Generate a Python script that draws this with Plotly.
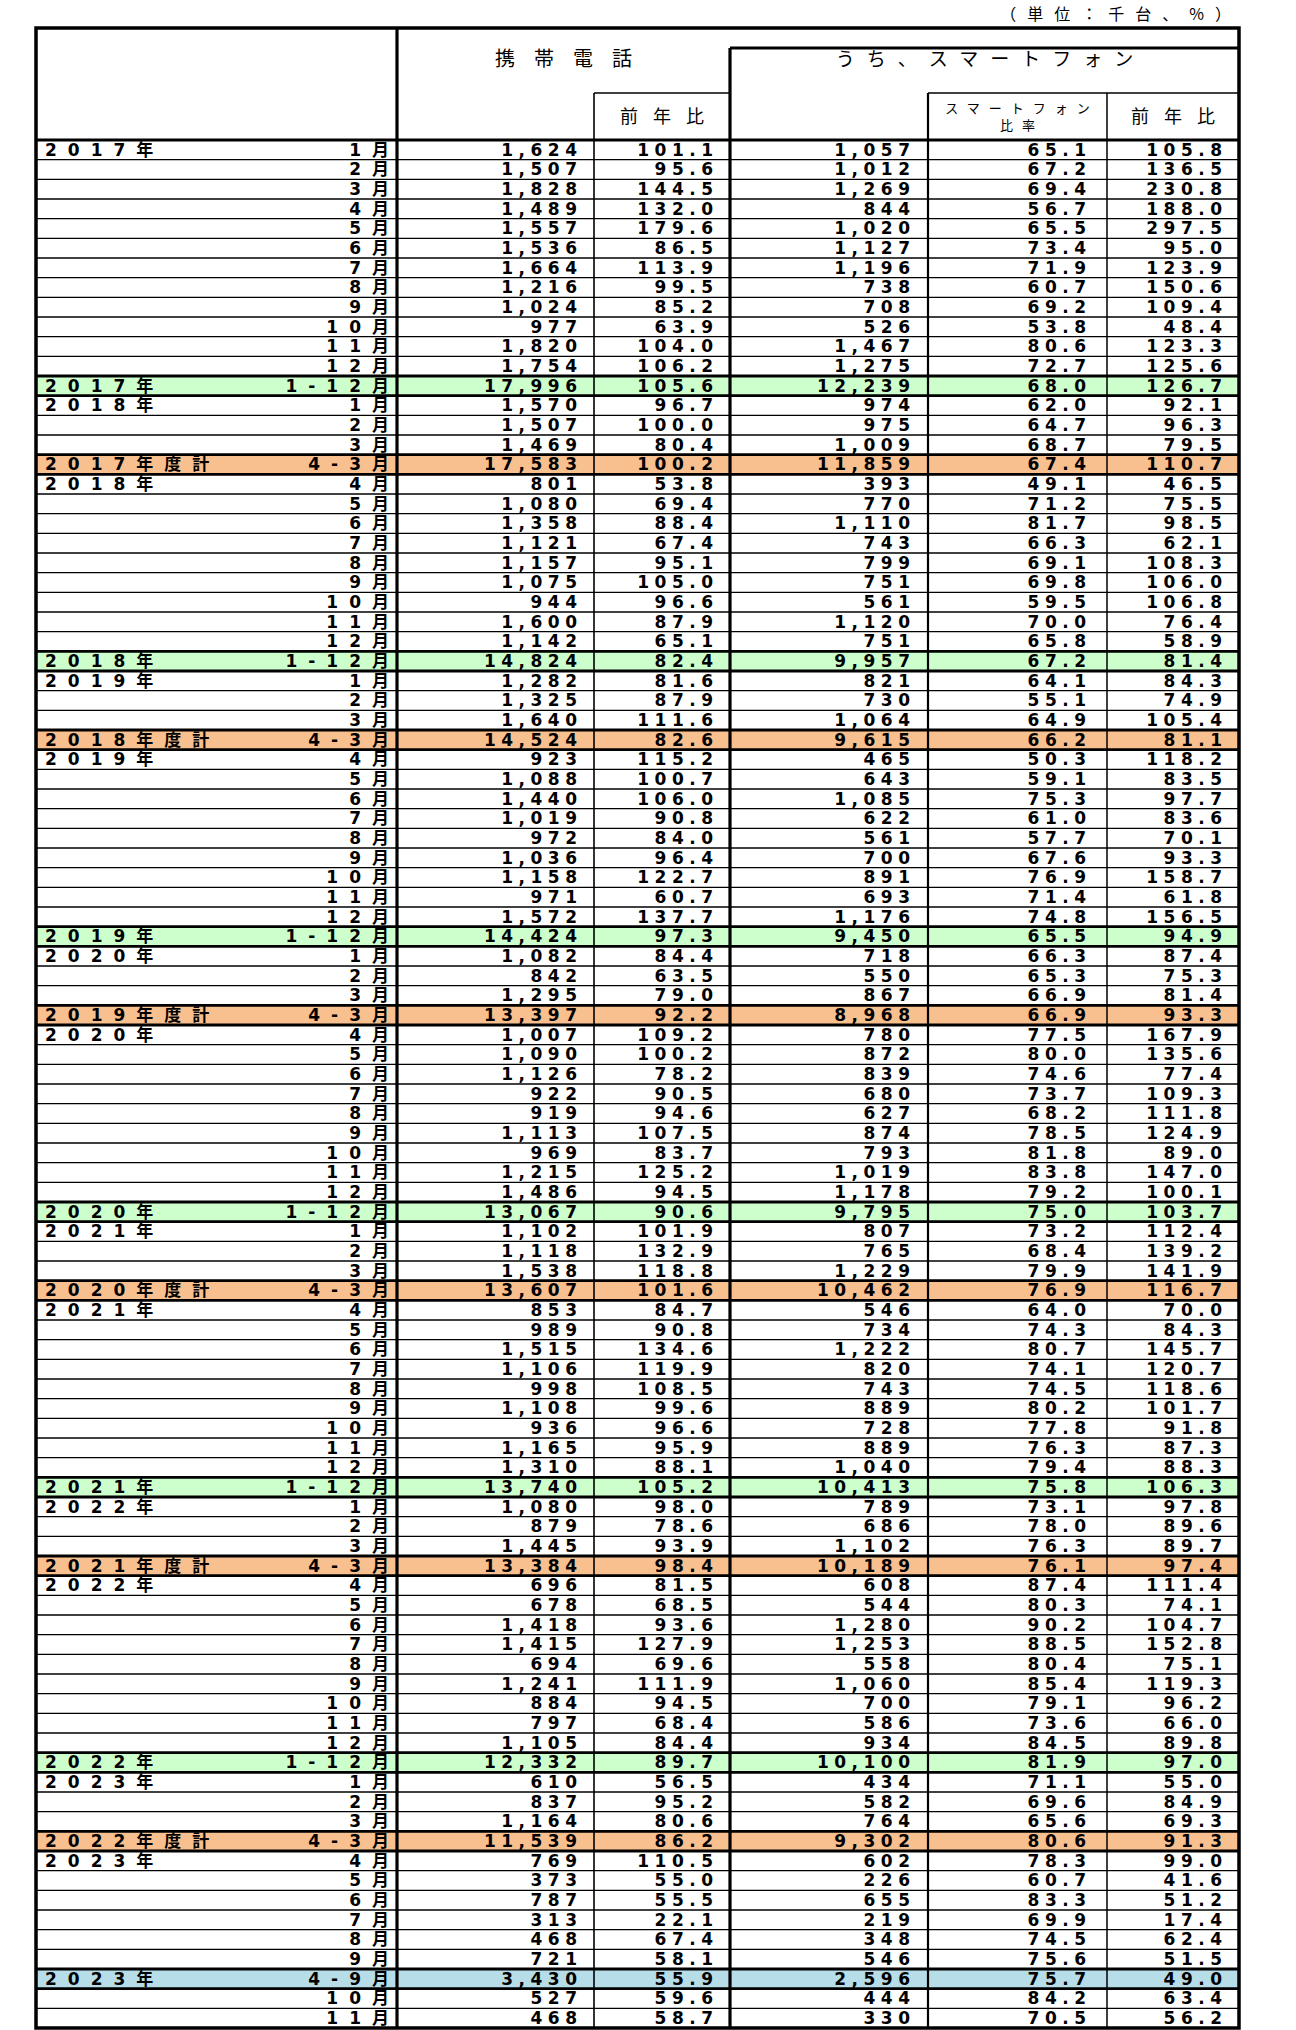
import plotly.graph_objects as go

# ---------------- data ----------------
year_labels = [
    "2017年", "", "", "", "", "", "", "", "", "", "", "",
    "2017年", "2018年", "", "", "2017年度計",
    "2018年", "", "", "", "", "", "", "", "",
    "2018年", "2019年", "", "", "2018年度計",
    "2019年", "", "", "", "", "", "", "", "",
    "2019年", "2020年", "", "", "2019年度計",
    "2020年", "", "", "", "", "", "", "", "",
    "2020年", "2021年", "", "", "2020年度計",
    "2021年", "", "", "", "", "", "", "", "",
    "2021年", "2022年", "", "", "2021年度計",
    "2022年", "", "", "", "", "", "", "", "",
    "2022年", "2023年", "", "", "2022年度計",
    "2023年", "", "", "", "", "",
    "2023年", "", "",
]
period_labels = [
    "1月", "2月", "3月", "4月", "5月", "6月", "7月", "8月", "9月", "10月", "11月", "12月",
    "1-12月", "1月", "2月", "3月", "4-3月",
    "4月", "5月", "6月", "7月", "8月", "9月", "10月", "11月", "12月",
    "1-12月", "1月", "2月", "3月", "4-3月",
    "4月", "5月", "6月", "7月", "8月", "9月", "10月", "11月", "12月",
    "1-12月", "1月", "2月", "3月", "4-3月",
    "4月", "5月", "6月", "7月", "8月", "9月", "10月", "11月", "12月",
    "1-12月", "1月", "2月", "3月", "4-3月",
    "4月", "5月", "6月", "7月", "8月", "9月", "10月", "11月", "12月",
    "1-12月", "1月", "2月", "3月", "4-3月",
    "4月", "5月", "6月", "7月", "8月", "9月", "10月", "11月", "12月",
    "1-12月", "1月", "2月", "3月", "4-3月",
    "4月", "5月", "6月", "7月", "8月", "9月",
    "4-9月", "10月", "11月",
]
# row kind: m = month, cy = calendar year total, fy = fiscal year total, h1 = half year
row_kinds = (
    ["m"] * 12 + ["cy"] + ["m"] * 3 + ["fy"]
    + (["m"] * 9 + ["cy"] + ["m"] * 3 + ["fy"]) * 5
    + ["m"] * 6 + ["h1"] + ["m"] * 2
)
phone_units = [
    1624, 1507, 1828, 1489, 1557, 1536, 1664, 1216, 1024, 977, 1820, 1754,
    17996, 1570, 1507, 1469, 17583,
    801, 1080, 1358, 1121, 1157, 1075, 944, 1600, 1142,
    14824, 1282, 1325, 1640, 14524,
    923, 1088, 1440, 1019, 972, 1036, 1158, 971, 1572,
    14424, 1082, 842, 1295, 13397,
    1007, 1090, 1126, 922, 919, 1113, 969, 1215, 1486,
    13067, 1102, 1118, 1538, 13607,
    853, 989, 1515, 1106, 998, 1108, 936, 1165, 1310,
    13740, 1080, 879, 1445, 13384,
    696, 678, 1418, 1415, 694, 1241, 884, 797, 1105,
    12332, 610, 837, 1164, 11539,
    769, 373, 787, 313, 468, 721,
    3430, 527, 468,
]
phone_yoy = [
    101.1, 95.6, 144.5, 132.0, 179.6, 86.5, 113.9, 99.5, 85.2, 63.9, 104.0, 106.2,
    105.6, 96.7, 100.0, 80.4, 100.2,
    53.8, 69.4, 88.4, 67.4, 95.1, 105.0, 96.6, 87.9, 65.1,
    82.4, 81.6, 87.9, 111.6, 82.6,
    115.2, 100.7, 106.0, 90.8, 84.0, 96.4, 122.7, 60.7, 137.7,
    97.3, 84.4, 63.5, 79.0, 92.2,
    109.2, 100.2, 78.2, 90.5, 94.6, 107.5, 83.7, 125.2, 94.5,
    90.6, 101.9, 132.9, 118.8, 101.6,
    84.7, 90.8, 134.6, 119.9, 108.5, 99.6, 96.6, 95.9, 88.1,
    105.2, 98.0, 78.6, 93.9, 98.4,
    81.5, 68.5, 93.6, 127.9, 69.6, 111.9, 94.5, 68.4, 84.4,
    89.7, 56.5, 95.2, 80.6, 86.2,
    110.5, 55.0, 55.5, 22.1, 67.4, 58.1,
    55.9, 59.6, 58.7,
]
smart_units = [
    1057, 1012, 1269, 844, 1020, 1127, 1196, 738, 708, 526, 1467, 1275,
    12239, 974, 975, 1009, 11859,
    393, 770, 1110, 743, 799, 751, 561, 1120, 751,
    9957, 821, 730, 1064, 9615,
    465, 643, 1085, 622, 561, 700, 891, 693, 1176,
    9450, 718, 550, 867, 8968,
    780, 872, 839, 680, 627, 874, 793, 1019, 1178,
    9795, 807, 765, 1229, 10462,
    546, 734, 1222, 820, 743, 889, 728, 889, 1040,
    10413, 789, 686, 1102, 10189,
    608, 544, 1280, 1253, 558, 1060, 700, 586, 934,
    10100, 434, 582, 764, 9302,
    602, 226, 655, 219, 348, 546,
    2596, 444, 330,
]
smart_share = [
    65.1, 67.2, 69.4, 56.7, 65.5, 73.4, 71.9, 60.7, 69.2, 53.8, 80.6, 72.7,
    68.0, 62.0, 64.7, 68.7, 67.4,
    49.1, 71.2, 81.7, 66.3, 69.1, 69.8, 59.5, 70.0, 65.8,
    67.2, 64.1, 55.1, 64.9, 66.2,
    50.3, 59.1, 75.3, 61.0, 57.7, 67.6, 76.9, 71.4, 74.8,
    65.5, 66.3, 65.3, 66.9, 66.9,
    77.5, 80.0, 74.6, 73.7, 68.2, 78.5, 81.8, 83.8, 79.2,
    75.0, 73.2, 68.4, 79.9, 76.9,
    64.0, 74.3, 80.7, 74.1, 74.5, 80.2, 77.8, 76.3, 79.4,
    75.8, 73.1, 78.0, 76.3, 76.1,
    87.4, 80.3, 90.2, 88.5, 80.4, 85.4, 79.1, 73.6, 84.5,
    81.9, 71.1, 69.6, 65.6, 80.6,
    78.3, 60.7, 83.3, 69.9, 74.5, 75.6,
    75.7, 84.2, 70.5,
]
smart_yoy = [
    105.8, 136.5, 230.8, 188.0, 297.5, 95.0, 123.9, 150.6, 109.4, 48.4, 123.3, 125.6,
    126.7, 92.1, 96.3, 79.5, 110.7,
    46.5, 75.5, 98.5, 62.1, 108.3, 106.0, 106.8, 76.4, 58.9,
    81.4, 84.3, 74.9, 105.4, 81.1,
    118.2, 83.5, 97.7, 83.6, 70.1, 93.3, 158.7, 61.8, 156.5,
    94.9, 87.4, 75.3, 81.4, 93.3,
    167.9, 135.6, 77.4, 109.3, 111.8, 124.9, 89.0, 147.0, 100.1,
    103.7, 112.4, 139.2, 141.9, 116.7,
    70.0, 84.3, 145.7, 120.7, 118.6, 101.7, 91.8, 87.3, 88.3,
    106.3, 97.8, 89.6, 89.7, 97.4,
    111.4, 74.1, 104.7, 152.8, 75.1, 119.3, 96.2, 66.0, 89.8,
    97.0, 55.0, 84.9, 69.3, 91.3,
    99.0, 41.6, 51.2, 17.4, 62.4, 51.5,
    49.0, 63.4, 56.2,
]
header_phone = "携帯電話"
header_smart = "うち、スマートフォン"
header_yoy = "前年比"
header_share = ["スマートフォン", "比率"]
unit_note = "（単位：千台、%）"

# ---------------- layout / style ----------------
W, H = 1296, 2030
XB = [36, 397, 594, 730, 928, 1107, 1239]     # column borders
Y_TOP, Y_SP, Y_SUB, Y0, Y_END = 28, 48, 93, 140, 2028
N = len(period_labels)
RH = (Y_END - Y0) / N
FILL = {"cy": "#CCFFCC", "fy": "#F8BF8F", "h1": "#B7DDE8"}
BODY_FONT = "DejaVu Sans, Noto Sans CJK JP, sans-serif"
CJK_FONT = "Noto Sans CJK JP, DejaVu Sans, sans-serif"
FS = 17
LS_NUM = 5.5
LS_LAB = 11
TEXT_DY = 1.5


def sp(s, ls):
    return f'<span style="letter-spacing:{ls}px">{s}</span>'


def row_top(i):
    return Y0 + i * RH


centers = [row_top(i) + RH / 2 + TEXT_DY for i in range(N)]

fig = go.Figure()

shapes = []
# colored summary rows
for i, k in enumerate(row_kinds):
    if k in FILL:
        shapes.append(dict(type="rect", xref="x", yref="y", x0=XB[0], x1=XB[-1],
                           y0=row_top(i), y1=row_top(i + 1), fillcolor=FILL[k],
                           line=dict(width=0), layer="below"))


def hline(y, x0, x1, w):
    shapes.append(dict(type="line", xref="x", yref="y", x0=x0, x1=x1, y0=y, y1=y,
                       line=dict(color="black", width=w)))


def vline(x, y0, y1, w):
    shapes.append(dict(type="line", xref="x", yref="y", x0=x, x1=x, y0=y0, y1=y1,
                       line=dict(color="black", width=w)))


# row separators
for i in range(1, N):
    thick = row_kinds[i] != "m" or row_kinds[i - 1] != "m"
    hline(row_top(i), XB[0], XB[-1], 2.8 if thick else 1.4)

# header lines
hline(Y_SP, XB[3], XB[-1], 3)
hline(Y_SUB, XB[2], XB[3], 1.5)
hline(Y_SUB, XB[4], XB[-1], 1.5)
hline(Y0, XB[0], XB[-1], 3.2)

# vertical lines
vline(XB[1], Y_TOP, Y_END, 3.2)
vline(XB[2], Y_SUB, Y_END, 1.6)
vline(XB[3], Y_SP, Y_END, 3.2)
vline(XB[4], Y_SUB, Y_END, 2.2)
vline(XB[5], Y_SUB, Y_END, 1.5)

# outer frame
shapes.append(dict(type="rect", xref="x", yref="y", x0=XB[0], x1=XB[-1], y0=Y_TOP, y1=Y_END,
                   line=dict(color="black", width=3.5), fillcolor="rgba(0,0,0,0)"))


def text_col(xpos, texts, pos, ls, font=BODY_FONT, size=FS, ys=None, weight="bold"):
    # letter-spacing leaves a trailing gap after the last glyph; compensate
    if pos.endswith("left"):
        xpos = xpos + ls
    elif pos.endswith("center"):
        xpos = xpos + ls / 2
    fig.add_trace(go.Scatter(
        x=[xpos] * len(texts), y=ys if ys is not None else centers,
        text=[sp(t, ls) if t else "" for t in texts],
        mode="text", textposition=pos, hoverinfo="skip", showlegend=False,
        textfont=dict(family=font, size=size, color="black", weight=weight),
    ))


# body
text_col(45, year_labels, "middle right", LS_LAB)
text_col(389, period_labels, "middle left", LS_LAB)
text_col(577, [f"{v:,}" for v in phone_units], "middle left", LS_NUM)
text_col(713, [f"{v:.1f}" for v in phone_yoy], "middle left", LS_NUM)
text_col(910, [f"{v:,}" for v in smart_units], "middle left", LS_NUM)
text_col(1086, [f"{v:.1f}" for v in smart_share], "middle left", LS_NUM)
text_col(1222, [f"{v:.1f}" for v in smart_yoy], "middle left", LS_NUM)

# headers
text_col((XB[1] + XB[3]) / 2, [header_phone], "middle center", 19, CJK_FONT, 20, [61], "normal")
text_col((XB[3] + XB[-1]) / 2, [header_smart], "middle center", 12, CJK_FONT, 19, [61], "normal")
text_col((XB[2] + XB[3]) / 2, [header_yoy], "middle center", 15, CJK_FONT, 18, [118], "normal")
text_col((XB[5] + XB[6]) / 2, [header_yoy], "middle center", 15, CJK_FONT, 18, [118], "normal")
fig.add_trace(go.Scatter(
    x=[(XB[4] + XB[5]) / 2 + 4.5], y=[118],
    text=[sp(header_share[0], 9) + "<br>" + sp(header_share[1], 9)],
    mode="text", textposition="middle center", hoverinfo="skip", showlegend=False,
    textfont=dict(family=CJK_FONT, size=13, color="black"),
))
text_col(1231, [unit_note], "middle left", 11, CJK_FONT, 16, [16], "normal")

fig.update_layout(
    width=W, height=H, margin=dict(l=0, r=0, t=0, b=0),
    paper_bgcolor="white", plot_bgcolor="white",
    xaxis=dict(range=[0, W], visible=False, fixedrange=True),
    yaxis=dict(range=[H, 0], visible=False, fixedrange=True),
    shapes=shapes, showlegend=False,
)

fig.write_html("out.html", config={"displayModeBar": False, "staticPlot": True},
               post_script="document.body.style.margin='0';document.body.style.overflow='hidden';")
